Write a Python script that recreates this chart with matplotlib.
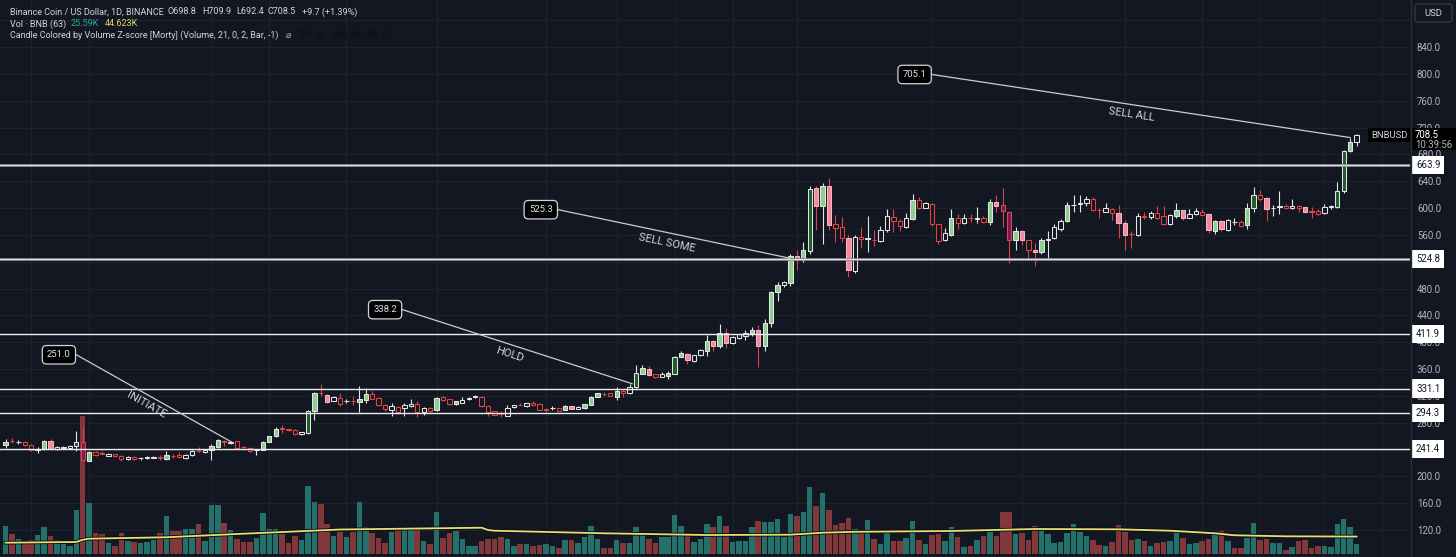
import numpy as np
import matplotlib
matplotlib.use("Agg")
import matplotlib.pyplot as plt
import matplotlib.transforms as mtransforms
import matplotlib.patheffects as pe
from matplotlib.patches import FancyBboxPatch, Rectangle
from matplotlib.lines import Line2D

plt.rcParams['font.family'] = ['Roboto', 'DejaVu Sans']

# ---- daily candles, BNB/USD ----
opens = [246.6, 253.5, 251.0, 251.0, 247.0, 240.0, 241.0, 253.0, 241.0, 243.0,
         242.5, 245.0, 252.0, 223.5, 236.0, 235.0, 231.0, 233.0, 231.0, 226.0,
         229.0, 227.0, 228.0, 228.0, 229.0, 226.5, 231.0, 232.0, 227.5, 232.0,
         238.5, 236.0, 239.0, 244.0, 252.5, 250.0, 252.5, 244.0, 243.0, 239.0,
         240.0, 252.0, 259.7, 271.5, 270.0, 270.0, 263.0, 265.0, 297.6, 325.0,
         321.0, 313.0, 317.0, 312.0, 312.5, 311.0, 314.0, 323.0, 317.0, 307.0,
         299.6, 304.0, 301.5, 304.5, 308.3, 295.7, 301.5, 298.6, 318.0, 315.0,
         307.4, 310.0, 315.0, 318.0, 319.0, 305.4, 297.6, 294.0, 290.5, 303.5,
         307.0, 304.5, 309.3, 308.3, 299.8, 301.5, 301.5, 299.6, 304.5, 300.6,
         301.5, 306.4, 318.6, 323.5, 324.0, 319.0, 327.8, 323.9, 332.7, 353.2,
         360.0, 352.0, 349.0, 349.3, 353.2, 378.5, 382.4, 372.6, 380.4, 387.3,
         401.9, 394.0, 414.5, 399.0, 406.7, 409.6, 414.5, 418.4, 394.0, 428.0,
         475.0, 485.6, 488.5, 528.4, 522.6, 536.2, 629.7, 602.4, 633.6, 577.0,
         571.3, 554.7, 505.9, 556.7, 553.8, 553.0, 550.8, 567.4, 586.8, 580.0,
         572.2, 583.0, 612.1, 600.5, 606.3, 576.1, 552.8, 560.5, 585.9, 578.0,
         585.4, 584.0, 585.9, 579.0, 609.2, 604.4, 594.6, 552.8, 566.4, 551.8,
         537.2, 534.3, 552.8, 554.7, 569.3, 580.0, 604.4, 606.0, 607.3, 614.1,
         597.5, 594.6, 598.5, 592.7, 578.0, 561.5, 559.6, 587.8, 586.8, 592.7,
         587.8, 576.1, 587.8, 596.5, 585.9, 590.7, 594.6, 591.7, 566.4, 581.0,
         567.4, 579.0, 579.9, 574.1, 599.5, 619.0, 615.0, 599.5, 601.4, 603.4,
         599.5, 603.4, 601.4, 594.6, 595.6, 592.7, 601.4, 601.4, 624.8, 685.2,
         698.8]
highs = [255.3, 257.7, 254.0, 252.5, 248.0, 244.0, 254.5, 255.5, 245.0, 246.0,
         247.0, 267.5, 273.0, 238.0, 238.0, 238.0, 235.5, 234.0, 232.0, 231.0,
         230.5, 229.0, 230.0, 230.0, 232.0, 238.0, 233.0, 236.0, 233.5, 239.0,
         244.0, 241.0, 248.0, 256.0, 255.0, 253.5, 253.5, 245.0, 243.5, 241.0,
         253.0, 261.0, 273.0, 276.0, 271.0, 271.5, 267.0, 298.5, 325.5, 337.6,
         323.0, 320.0, 325.0, 315.0, 320.0, 334.6, 331.7, 328.0, 318.0, 308.0,
         309.0, 305.0, 310.0, 315.0, 312.3, 303.0, 303.0, 318.0, 320.0, 316.0,
         313.0, 319.0, 318.0, 321.5, 320.0, 306.0, 298.0, 297.0, 306.0, 307.0,
         310.0, 310.0, 312.0, 309.0, 302.5, 305.0, 302.0, 306.0, 305.5, 304.5,
         308.0, 320.0, 325.0, 326.0, 325.0, 332.7, 329.0, 338.0, 366.0, 366.0,
         364.0, 353.0, 355.0, 357.0, 380.0, 387.0, 384.0, 381.0, 390.0, 410.6,
         404.0, 427.2, 421.3, 409.0, 413.0, 418.4, 423.3, 425.2, 435.0, 476.8,
         490.5, 491.4, 532.3, 537.0, 548.9, 633.6, 632.6, 637.5, 645.2, 589.7,
         586.8, 559.6, 560.0, 572.2, 587.8, 567.4, 573.2, 598.5, 598.5, 583.9,
         592.7, 620.9, 616.0, 609.0, 608.0, 577.0, 571.0, 598.5, 590.7, 590.7,
         590.5, 601.4, 588.0, 613.1, 620.0, 630.6, 596.0, 571.3, 567.5, 552.5,
         547.9, 554.7, 566.4, 577.0, 583.0, 609.2, 619.0, 619.0, 618.0, 617.0,
         600.0, 607.3, 599.5, 605.3, 582.0, 566.4, 593.0, 593.7, 595.6, 602.4,
         602.4, 590.5, 607.3, 597.5, 598.5, 600.5, 598.0, 592.5, 582.0, 582.0,
         583.0, 584.9, 581.5, 607.3, 631.6, 626.7, 616.0, 605.3, 624.8, 606.0,
         613.1, 604.5, 602.0, 601.4, 598.5, 606.3, 605.0, 638.4, 686.0, 703.7,
         709.9]
lows = [243.1, 250.0, 249.0, 245.0, 238.0, 235.0, 240.0, 240.0, 240.0, 241.0,
        241.0, 238.0, 222.7, 223.0, 231.0, 233.0, 230.0, 229.0, 222.7, 224.0,
        225.0, 225.0, 226.0, 227.0, 225.0, 224.6, 228.0, 228.0, 226.5, 231.0,
        236.0, 235.0, 224.6, 243.0, 245.0, 248.0, 242.5, 242.0, 237.0, 232.0,
        239.5, 251.0, 258.5, 265.0, 268.0, 262.5, 262.5, 264.0, 284.5, 320.0,
        309.0, 312.0, 305.5, 309.0, 306.0, 295.7, 310.0, 315.0, 305.0, 298.0,
        289.9, 292.8, 289.9, 303.0, 288.9, 290.9, 296.5, 298.0, 313.0, 306.5,
        306.0, 309.0, 314.0, 317.5, 304.0, 290.0, 291.0, 288.0, 290.0, 302.5,
        306.0, 304.0, 306.0, 299.0, 296.0, 298.5, 297.0, 299.0, 300.0, 300.0,
        300.5, 306.0, 318.0, 320.0, 319.5, 314.2, 319.0, 323.0, 332.0, 352.5,
        350.0, 347.5, 348.0, 345.4, 352.0, 377.5, 367.7, 370.0, 379.5, 379.5,
        387.0, 391.0, 391.0, 398.0, 405.5, 403.8, 409.0, 363.9, 386.3, 423.3,
        461.2, 482.7, 484.6, 507.0, 519.7, 531.3, 567.4, 545.9, 567.4, 549.8,
        548.9, 497.3, 503.0, 541.1, 534.3, 544.0, 548.9, 564.4, 564.4, 566.4,
        571.0, 582.0, 598.0, 599.5, 573.0, 546.0, 551.5, 558.6, 569.3, 576.1,
        579.5, 577.1, 578.0, 575.1, 594.6, 572.2, 517.7, 538.2, 545.0, 524.5,
        513.8, 532.3, 524.5, 554.0, 566.4, 579.0, 593.7, 593.7, 603.4, 596.0,
        585.9, 593.5, 582.0, 555.7, 537.2, 540.1, 558.5, 583.0, 583.0, 583.0,
        575.1, 575.5, 585.9, 582.0, 585.0, 590.0, 587.5, 563.0, 561.5, 565.5,
        566.5, 574.1, 572.5, 568.3, 593.7, 610.2, 581.0, 588.8, 590.7, 598.0,
        598.5, 593.7, 593.0, 585.9, 589.5, 591.5, 598.0, 599.5, 623.0, 683.5,
        692.4]
closes = [251.4, 252.8, 251.3, 246.5, 240.0, 241.0, 253.0, 241.0, 244.0, 243.5,
          245.5, 252.0, 224.6, 236.8, 232.0, 234.0, 234.0, 230.0, 225.5, 229.5,
          226.0, 227.5, 228.5, 229.0, 228.0, 232.0, 230.5, 228.5, 232.5, 238.0,
          237.5, 240.0, 246.0, 255.0, 252.0, 252.0, 243.0, 243.5, 238.0, 240.0,
          252.0, 259.7, 271.4, 271.0, 269.5, 263.6, 266.0, 297.6, 324.4, 324.0,
          311.0, 318.0, 308.3, 312.3, 312.0, 315.0, 323.0, 316.0, 306.4, 300.6,
          304.5, 296.7, 306.4, 308.3, 295.7, 301.5, 297.6, 317.1, 314.2, 307.4,
          312.2, 314.0, 317.0, 320.0, 304.5, 296.7, 291.8, 293.7, 302.5, 306.4,
          306.5, 309.3, 306.4, 299.6, 299.8, 302.0, 297.6, 305.4, 300.6, 303.5,
          307.4, 319.0, 323.9, 323.0, 320.0, 327.8, 325.0, 332.7, 354.1, 361.0,
          351.2, 348.3, 352.0, 354.0, 378.5, 383.4, 373.6, 380.4, 388.2, 401.9,
          394.0, 414.5, 399.0, 407.7, 411.6, 414.5, 418.4, 394.0, 429.1, 474.9,
          485.6, 489.5, 528.4, 522.6, 537.2, 628.7, 602.4, 632.6, 575.1, 570.3,
          554.7, 507.0, 557.6, 553.8, 554.7, 551.8, 567.4, 587.8, 580.0, 573.2,
          584.9, 612.1, 600.5, 607.3, 576.1, 550.8, 562.5, 585.9, 577.1, 585.9,
          584.9, 584.4, 579.0, 609.2, 603.4, 595.6, 552.8, 566.4, 551.8, 537.2,
          534.3, 551.8, 553.0, 571.3, 580.0, 604.4, 605.3, 607.3, 614.1, 596.5,
          596.5, 600.5, 592.7, 578.0, 560.5, 561.3, 588.8, 586.8, 592.7, 585.9,
          576.1, 589.7, 596.5, 584.9, 591.7, 595.6, 589.7, 567.4, 581.0, 568.3,
          581.9, 578.8, 573.2, 599.5, 619.0, 614.1, 598.5, 599.7, 602.4, 599.5,
          603.4, 599.5, 593.7, 594.4, 590.7, 601.4, 602.4, 624.8, 685.2, 698.8,
          708.5]
# volume z-score colouring: g light green, G dark green, w hollow up,
# r hollow down, p pink, m dark magenta
kinds = ("grwrrwgpww" "wGmgrrwrrw" "rwwwrgrrww" "rwggrwrrrw" "gggrrrwGgr"
         "pwrwrggrrr" "wrwwrwrgrr" "gwwwrrrrww" "rwrrrwrgpw" "gggrrgrwGg"
         "prwgGgpwwg" "pgpwwwgpgg" "gwgpgGpgpr" "rpwrwrwwrr" "wgrwrrwgrw"
         "rwrgpmmgpr" "pgwwwgwwwr" "rwrpprwrwr" "rwgpwwrpgp" "wwrgGrpwwr"
         "wrprrwwGGg" "w")
# volume, thousand BNB
volumes = [71.7, 51.2, 38.4, 27.4, 35.8, 48.6, 69.1, 46.8, 35.1, 25.6,
           20.5, 113.4, 353.3, 131.3, 53.8, 50.4, 28.2, 21.2, 53.8, 34.0,
           30.7, 28.9, 30.7, 35.8, 53.8, 96.5, 58.1, 58.1, 64.0, 63.2,
           76.8, 33.3, 124.7, 124.7, 79.4, 60.7, 39.2, 30.7, 30.0, 41.7,
           104.2, 63.2, 63.2, 50.4, 28.9, 46.8, 35.8, 174.1, 133.1, 128.0,
           76.8, 46.8, 56.3, 42.8, 56.3, 132.4, 69.9, 53.0, 40.2, 27.4,
           57.1, 59.6, 61.4, 68.4, 61.4, 34.0, 25.6, 108.3, 41.0, 53.0,
           58.9, 39.2, 19.7, 19.7, 33.3, 39.2, 39.2, 43.5, 37.6, 19.7,
           25.6, 25.6, 19.7, 23.0, 25.6, 19.7, 16.1, 35.8, 35.8, 28.9,
           44.3, 71.7, 38.4, 16.1, 16.1, 35.8, 28.9, 27.4, 69.9, 53.8,
           38.4, 27.4, 42.8, 44.3, 99.8, 71.7, 48.6, 31.5, 39.2, 76.8,
           69.9, 97.3, 71.7, 31.5, 32.5, 32.5, 69.9, 84.5, 81.2, 82.7,
           89.6, 44.3, 101.6, 97.3, 106.8, 171.5, 122.9, 156.2, 111.9, 74.2,
           79.4, 91.4, 64.0, 53.0, 87.0, 37.6, 25.6, 54.5, 34.0, 34.0,
           40.2, 84.5, 35.8, 25.6, 48.6, 51.2, 34.0, 68.4, 43.5, 18.8,
           21.2, 35.8, 45.3, 55.6, 46.8, 108.3, 108.3, 50.4, 53.0, 35.8,
           71.7, 63.2, 52.0, 27.4, 30.7, 54.5, 76.0, 56.3, 46.1, 35.1,
           23.0, 21.2, 31.5, 74.2, 56.3, 35.8, 38.4, 33.3, 20.5, 28.2,
           31.5, 34.0, 61.4, 41.0, 25.6, 27.4, 33.3, 39.2, 57.1, 58.9,
           33.3, 16.1, 14.6, 41.7, 80.1, 35.8, 38.4, 27.4, 27.4, 10.2,
           17.9, 33.3, 36.6, 16.1, 21.2, 20.5, 17.9, 76.8, 88.8, 69.9,
           25.59]
# volume moving average (63), read at a few bars
vol_ma_idx = [0, 11, 12, 13, 25, 36, 52, 74, 75, 76, 93, 109, 122, 127, 132,
              147, 160, 173, 181, 188, 191, 199, 210]
vol_ma = [28.9, 30.7, 36.4, 39.2, 42.8, 51.2, 62.7, 67.3, 61.4, 59.6, 53.0,
          48.6, 49.4, 54.5, 56.8, 58.9, 64.0, 63.2, 59.6, 53.0, 47.9, 45.3, 44.6]
vol_ma_last = 44.623

levels = [663.9, 524.8, 411.9, 331.1, 294.3, 241.4]
price_ticks = list(range(80, 920, 40))
hidden_ticks = [240, 520]  # sit fully under the level tags
date_grid = [4, 13, 32, 41, 53, 67, 84, 95, 104, 113, 123, 144, 158, 174, 186, 195, 205, 214]

# trade notes: label box (bar, price) -> target (bar, price)
note_prices = [251.0, 338.2, 525.3, 705.1]
note_target_x = [35.2, 97.4, 121.9, 209.0]
note_box_x = [8.3, 59.0, 83.2, 141.3]
note_box_y = [381.4, 448.6, 597.6, 799.1]
note_words = ['INITIATE', 'HOLD', 'SELL SOME', 'SELL ALL']

# ---- style ----
BG = '#131722'
GRID = '#1e222d'
TXT = '#d1d4dc'
AXTXT = '#b2b5be'
UP_WICK = '#e4e4e4'
DN_WICK = '#d9434c'
face = {'g': '#8dcf8f', 'G': '#1d5e2a', 'w': BG, 'r': BG, 'p': '#f2899c', 'm': '#7d1d45'}
edge = {'g': '#e4e4e4', 'G': '#e4e4e4', 'w': '#e4e4e4', 'r': '#e2443f', 'p': '#f5b8c3', 'm': '#d8466a'}
VOL_UP = '#24706a'
VOL_DN = '#82373b'

W, H = 1456, 557
PLOT_W = 1410
fig = plt.figure(figsize=(W / 100, H / 100), dpi=100, facecolor=BG)
rect = [0, 0, PLOT_W / W, 1]
ax_bg = fig.add_axes(rect, facecolor=BG)
ax_vol = fig.add_axes(rect, facecolor='none')
ax = fig.add_axes(rect, facecolor='none')

n = len(closes)
x = np.arange(n)
xlim = (-0.855, 218.3)
ylim = (96.6, 910.1)

for a in (ax_bg, ax_vol, ax):
    a.set_xlim(*xlim)
    for s in a.spines.values():
        s.set_visible(False)
ax_bg.set_ylim(*ylim)
ax.set_ylim(*ylim)
ax_vol.set_ylim(-7.7, 1418.2)

# grid
ax_bg.set_yticks(price_ticks)
ax_bg.set_xticks(date_grid)
ax_bg.tick_params(left=False, bottom=False, labelleft=False, labelbottom=False)
ax_bg.grid(True, color=GRID, lw=0.8)
ax_vol.set_xticks([])
ax_vol.set_yticks([])

# volume
o = np.array(opens)
c = np.array(closes)
vcol = [VOL_UP if cc >= oo else VOL_DN for oo, cc in zip(o, c)]
ax_vol.bar(x, volumes, width=0.86, color=vcol, linewidth=0)
ax_vol.plot(vol_ma_idx, vol_ma, color='#e8df74', lw=1.3,
            path_effects=[pe.Stroke(linewidth=2.6, foreground='#0b0d12'), pe.Normal()])

# candles
wick_col = [UP_WICK if k in 'gGw' else DN_WICK for k in kinds]
ax.vlines(x, lows, highs, colors=wick_col, lw=0.8, zorder=2)
bottoms = np.minimum(o, c)
heights = np.maximum(np.abs(c - o), 0.6)
ax.bar(x, heights, bottom=bottoms, width=0.68,
       color=[face[k] for k in kinds], edgecolor=[edge[k] for k in kinds],
       linewidth=0.75, zorder=3)

# price scale on the right
ax.yaxis.tick_right()
ax.set_yticks(price_ticks)
ax.set_yticklabels([f'{v:.1f}' if 120 <= v <= 840 and v not in hidden_ticks else ''
                    for v in price_ticks])
ax.tick_params(axis='y', length=0, pad=5, labelsize=6.9, labelcolor=AXTXT)
ax.set_xticks([])

ident = mtransforms.IdentityTransform()
fig.add_artist(Line2D([PLOT_W + 0.5, PLOT_W + 0.5], [0, H], transform=ident,
                      color='#2a2e39', lw=1))

# horizontal levels with their price tags
yblend = mtransforms.blended_transform_factory(ax.transAxes, ax.transData)
for i, lv in enumerate(levels):
    if i < 2:
        ax.axhline(lv, color='#8c8f96', lw=2.0, zorder=4)
        ax.axhline(lv, color='#e2e2e2', lw=0.7, zorder=4)
    else:
        ax.axhline(lv, color='#ececec', lw=1.0, zorder=4)
    ax.text(1.0 + 6 / PLOT_W, lv, f'{lv:.1f}', transform=yblend, ha='left', va='center',
            fontsize=6.9, color='#131722', clip_on=False, zorder=6,
            bbox=dict(boxstyle='square,pad=0.42', fc='white', ec='none'))

# trade notes
BOX_HALF = 2.7
for px, py, tx, tp, word in zip(note_box_x, note_box_y, note_target_x, note_prices, note_words):
    x0, y0 = px + BOX_HALF, py
    ax.plot([x0, tx], [y0, tp], color='#c9ccd3', lw=0.9, zorder=4)
    ax.text(px, py, f'{tp:.1f}', ha='center', va='center', fontsize=6.8, color='#e0e3eb',
            zorder=6, bbox=dict(boxstyle='round,pad=0.5,rounding_size=0.45',
                                fc='#000000', ec='#d1d4dc', lw=0.9))
    p0 = ax.transData.transform((x0, y0))
    p1 = ax.transData.transform((tx, tp))
    ang = np.arctan2(p1[1] - p0[1], p1[0] - p0[0])
    t = 0.48
    mx, my = x0 + t * (tx - x0), y0 + t * (tp - y0)
    off = 10
    tr = mtransforms.offset_copy(ax.transData, fig=fig, x=off * np.sin(ang),
                                 y=-off * np.cos(ang), units='dots')
    ax.text(mx, my, word, transform=tr, rotation=np.degrees(ang), rotation_mode='anchor',
            ha='center', va='center', fontsize=8.0, color=TXT, zorder=5)

# last price tags
y_last = ax.transData.transform((0, closes[-1]))[1]
fig.add_artist(Rectangle((1411, y_last - 15), 45, 22, transform=ident, fc='#000000', ec='none'))
fig.text(1415, y_last + 0.5, f'{closes[-1]:.1f}', transform=ident, ha='left', va='center',
         fontsize=6.9, color='#ffffff')
fig.text(1415, y_last - 10, '10:39:56', transform=ident, ha='left', va='center',
         fontsize=6.9, color=AXTXT)
fig.add_artist(Rectangle((1368, y_last - 6.5), 42, 13.5, transform=ident, fc='#000000', ec='none'))
fig.text(1389, y_last, 'BNBUSD', transform=ident, ha='center', va='center',
         fontsize=6.8, color=TXT)

# currency button
fig.add_artist(FancyBboxPatch((1415, H - 22), 37, 18, boxstyle='round,pad=0,rounding_size=3',
                              transform=ident, fc=BG, ec='#363a45', lw=0.9))
fig.text(1433.5, H - 13, 'USD', transform=ident, ha='center', va='center',
         fontsize=6.8, color=TXT)

# legend header
def hdr(xp, yp, s, col, **kw):
    fig.text(xp, H - yp, s, transform=ident, ha='left', va='center',
             fontsize=6.5, color=col, **kw)

hdr(9.5, 12, 'Binance Coin / US Dollar, 1D, BINANCE', TXT)
hdr(167, 12, f'O{opens[-1]:.1f}', TXT)
hdr(202, 12, f'H{highs[-1]:.1f}', TXT)
hdr(236, 12, f'L{lows[-1]:.1f}', TXT)
hdr(268, 12, f'C{closes[-1]:.1f}', TXT)
chg = closes[-1] - closes[-2]
hdr(302, 12, f'+{chg:.1f} (+{chg / closes[-2] * 100:.2f}%)', TXT)
hdr(9.5, 24, 'Vol · BNB (63)', TXT)
hdr(71, 24, f'{volumes[-1]:.2f}K', '#22ab94')
hdr(105, 24, f'{vol_ma_last:.3f}K', '#e2d85c')
hdr(9.5, 35.5, 'Candle Colored by Volume Z-score [Morty] (Volume, 21, 0, 2, Bar, -1)', TXT)
hdr(286, 35.5, '\u2300', AXTXT)
hdr(298, 35.5, f'{highs[-1]:.2f}', '#0b0d12')
hdr(332, 35.5, f'{lows[-1]:.2f}', '#0b0d12')
hdr(365, 35.5, f'{closes[-1]:.2f}', '#0b0d12')

fig.savefig('out.png', dpi=100, facecolor=BG)
